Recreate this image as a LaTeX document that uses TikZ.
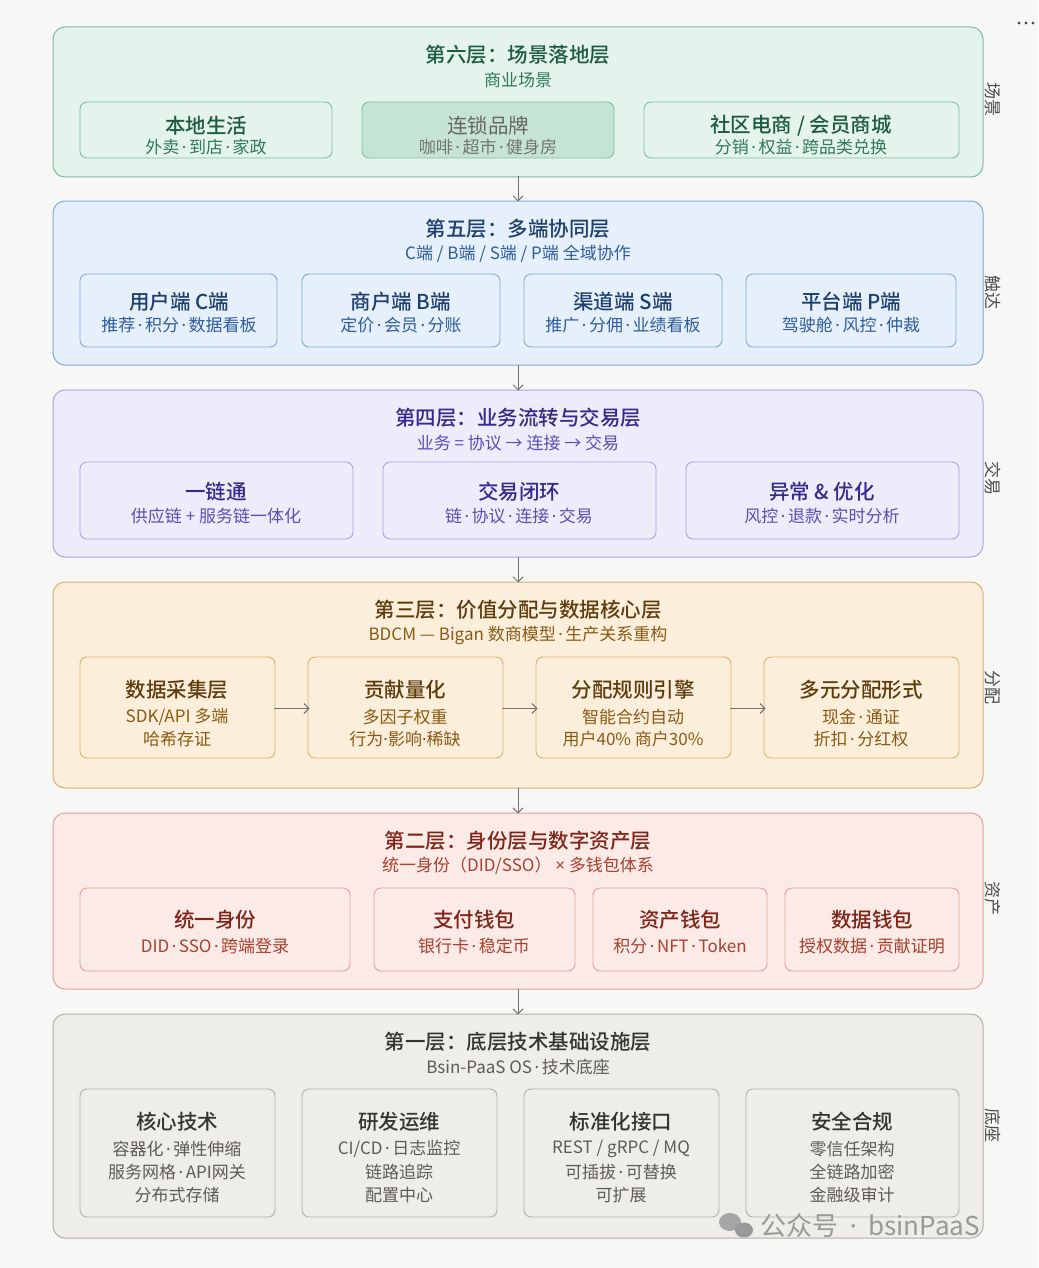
\documentclass[tikz,border=0pt]{standalone}
\usepackage{fontspec}
\setmainfont{Noto Sans CJK SC}[BoldFont={Noto Sans CJK SC Medium}]
\newfontfamily\latf{Noto Sans}
\newcommand\md{\hspace{0.15em}{\latf ·}\hspace{0.15em}}
\usetikzlibrary{arrows.meta,fit}
\definecolor{bg}{HTML}{F7F7F5}
\definecolor{gF}{HTML}{E4F4EC}\definecolor{gD}{HTML}{7DBFA0}\definecolor{gT}{HTML}{1E5A40}\definecolor{gS}{HTML}{2F7A58}
\definecolor{bF}{HTML}{E6F0FB}\definecolor{bD}{HTML}{80A8D8}\definecolor{bT}{HTML}{1F3F6F}\definecolor{bS}{HTML}{2E5C9A}
\definecolor{pF}{HTML}{EDECFB}\definecolor{pD}{HTML}{A8A3E4}\definecolor{pT}{HTML}{35298A}\definecolor{pS}{HTML}{5A4FB0}
\definecolor{oF}{HTML}{FBEFDC}\definecolor{oD}{HTML}{DDB06A}\definecolor{oT}{HTML}{5E3C0C}\definecolor{oS}{HTML}{8A5A14}
\definecolor{rF}{HTML}{FBEAE6}\definecolor{rD}{HTML}{E2A398}\definecolor{rT}{HTML}{7E2418}\definecolor{rS}{HTML}{A8402E}
\definecolor{kF}{HTML}{EFEDE8}\definecolor{kD}{HTML}{B2AFA8}\definecolor{kT}{HTML}{35332F}\definecolor{kS}{HTML}{5E5B55}
\tikzset{
 lay/.style={draw=#1D, fill=#1F, line width=1pt, rounded corners=12pt},
 ibox/.style={draw=#1D, fill=#1F, line width=0.9pt, rounded corners=7pt},
 ttl/.style={font=\fontsize{20.5}{24}\selectfont\bfseries, inner sep=0},
 sub/.style={font=\fontsize{17}{20}\selectfont, inner sep=0},
 btl/.style={font=\fontsize{20.5}{24}\selectfont\bfseries, inner sep=0},
 bsub/.style={font=\fontsize{17}{20}\selectfont, inner sep=0},
 side/.style={font=\fontsize{17}{20}\selectfont, text=black!70, rotate=-90, inner sep=0},
 larr/.style={draw=black!55, line width=1pt, -{Straight Barb[length=5pt,width=10pt]}},
}
\newcommand\bx[6]{\node[fit={(#2,#3)(#4,#5)}, inner sep=0, #6] (#1) {};}
\begin{document}
\begin{tikzpicture}[x=1pt,y=-1pt]
\fill[bg] (0,0) rectangle (1038,1268);
\useasboundingbox (0,0) rectangle (1038,1268);
\foreach \i in {0,1,2} \fill[black!70] (1019+\i*7,23) circle (1.6);
% layer 6
\bx{L6}{53}{27}{983}{177}{lay=g}
\node[ttl,text=gT] (t6) at (518,55) {第六层：场景落地层};
\node[sub,text=gS] (s6) at (518,80) {商业场景};
\bx{a61}{80}{102}{332}{158}{ibox=g}
\bx{a62}{362}{102}{614}{158}{draw=gD,fill=gD!30!gF,line width=.9pt,rounded corners=7pt}
\bx{a63}{644}{102}{959}{158}{ibox=g}
\node[btl,text=gT] at (206,126) {本地生活};\node[bsub,text=gS] at (206,147) {外卖\md 到店\md 家政};
\node[btl,text=black!60,font=\fontsize{20.5}{24}\selectfont] at (488,126) {连锁品牌};\node[bsub,text=black!55] at (488,147) {咖啡\md 超市\md 健身房};
\node[btl,text=gT] at (801,126) {社区电商 / 会员商城};\node[bsub,text=gS] at (801,147) {分销\md 权益\md 跨品类兑换};
\node[side] (sd6) at (993,100) {场景};
% layer 5
\bx{L5}{53}{201}{983}{365}{lay=b}
\node[ttl,text=bT] at (518,229) {第五层：多端协同层};
\node[sub,text=bS] at (518,254) {C端 / B端 / S端 / P端 全域协作};
\bx{a51}{80}{274}{277}{347}{ibox=b}\bx{a52}{302}{274}{500}{347}{ibox=b}
\bx{a53}{524}{274}{722}{347}{ibox=b}\bx{a54}{746}{274}{956}{347}{ibox=b}
\node[btl,text=bT] at (179,302) {用户端 C端};\node[bsub,text=bS] at (179,325) {推荐\md 积分\md 数据看板};
\node[btl,text=bT] at (401,302) {商户端 B端};\node[bsub,text=bS] at (401,325) {定价\md 会员\md 分账};
\node[btl,text=bT] at (623,302) {渠道端 S端};\node[bsub,text=bS] at (623,325) {推广\md 分佣\md 业绩看板};
\node[btl,text=bT] at (851,302) {平台端 P端};\node[bsub,text=bS] at (851,325) {驾驶舱\md 风控\md 仲裁};
\node[side] at (993,292) {触达};
% layer 4
\bx{L4}{53}{390}{983}{557}{lay=p}
\node[ttl,text=pT] at (518,418) {第四层：业务流转与交易层};
\node[sub,text=pS] at (518,443) {业务 = 协议 → 连接 → 交易};
\bx{a41}{80}{462}{353}{539}{ibox=p}\bx{a42}{383}{462}{656}{539}{ibox=p}\bx{a43}{686}{462}{959}{539}{ibox=p}
\node[btl,text=pT] at (216,492) {一链通};\node[bsub,text=pS] at (216,516) {供应链 + 服务链一体化};
\node[btl,text=pT] at (519,492) {交易闭环};\node[bsub,text=pS] at (519,516) {链\md 协议\md 连接\md 交易};
\node[btl,text=pT] at (822,492) {异常 \& 优化};\node[bsub,text=pS] at (822,516) {风控\md 退款\md 实时分析};
\node[side] at (993,478) {交易};
% layer 3
\bx{L3}{53}{582}{983}{788}{lay=o}
\node[ttl,text=oT] at (518,610) {第三层：价值分配与数据核心层};
\node[sub,text=oS] at (518,635) {BDCM — Bigan 数商模型\md 生产关系重构};
\bx{a31}{80}{657}{275}{758}{ibox=o}\bx{a32}{308}{657}{503}{758}{ibox=o}
\bx{a33}{536}{657}{731}{758}{ibox=o}\bx{a34}{764}{657}{959}{758}{ibox=o}
\node[btl,text=oT] at (177,690) {数据采集层};\node[bsub,text=oS] at (177,717) {SDK/API 多端};\node[bsub,text=oS] at (177,739) {哈希存证};
\node[btl,text=oT] at (405,690) {贡献量化};\node[bsub,text=oS] at (405,717) {多因子权重};\node[bsub,text=oS] at (405,739) {行为{\latf ·}影响{\latf ·}稀缺};
\node[btl,text=oT] at (633,690) {分配规则引擎};\node[bsub,text=oS] at (633,717) {智能合约自动};\node[bsub,text=oS] at (633,739) {用户40\% 商户30\%};
\node[btl,text=oT] at (861,690) {多元分配形式};\node[bsub,text=oS] at (861,717) {现金\md 通证};\node[bsub,text=oS] at (861,739) {折扣\md 分红权};
\draw[larr] ([xshift=-1pt,yshift=-1pt]a31.east) -- ([xshift=2pt,yshift=-1pt]a32.west);
\draw[larr] ([xshift=-1pt,yshift=-1pt]a32.east) -- ([xshift=2pt,yshift=-1pt]a33.west);
\draw[larr] ([xshift=-1pt,yshift=-1pt]a33.east) -- ([xshift=2pt,yshift=-1pt]a34.west);
\node[side] at (993,687) {分配};
% layer 2
\bx{L2}{53}{813}{983}{989}{lay=r}
\node[ttl,text=rT] at (518,841) {第二层：身份层与数字资产层};
\node[sub,text=rS] at (518,866) {统一身份（DID/SSO） {\latf ×} 多钱包体系};
\bx{a21}{80}{888}{350}{971}{ibox=r}\bx{a22}{374}{888}{575}{971}{ibox=r}
\bx{a23}{593}{888}{767}{971}{ibox=r}\bx{a24}{785}{888}{959}{971}{ibox=r}
\node[btl,text=rT] at (215,920) {统一身份};\node[bsub,text=rS] at (215,946) {DID\md SSO\md 跨端登录};
\node[btl,text=rT] at (474,920) {支付钱包};\node[bsub,text=rS] at (474,946) {银行卡\md 稳定币};
\node[btl,text=rT] at (680,920) {资产钱包};\node[bsub,text=rS] at (680,946) {积分\md NFT\md Token};
\node[btl,text=rT] at (872,920) {数据钱包};\node[bsub,text=rS] at (872,946) {授权数据\md 贡献证明};
\node[side] at (993,898) {资产};
% layer 1
\bx{L1}{53}{1014}{983}{1238}{lay=k}
\node[ttl,text=kT] at (518,1042) {第一层：底层技术基础设施层};
\node[sub,text=kS] at (518,1067) {Bsin-PaaS OS\md 技术底座};
\bx{a11}{80}{1089}{275}{1217}{ibox=k}\bx{a12}{302}{1089}{497}{1217}{ibox=k}
\bx{a13}{524}{1089}{719}{1217}{ibox=k}\bx{a14}{746}{1089}{959}{1217}{ibox=k}
\node[btl,text=kT] at (177,1122) {核心技术};\node[bsub,text=kS] at (177,1149) {容器化\md 弹性伸缩};\node[bsub,text=kS] at (177,1172) {服务网格\md API网关};\node[bsub,text=kS] at (177,1195) {分布式存储};
\node[btl,text=kT] at (399,1122) {研发运维};\node[bsub,text=kS] at (399,1149) {CI/CD\md 日志监控};\node[bsub,text=kS] at (399,1172) {链路追踪};\node[bsub,text=kS] at (399,1195) {配置中心};
\node[btl,text=kT] at (621,1122) {标准化接口};\node[bsub,text=kS] at (621,1149) {REST / gRPC / MQ};\node[bsub,text=kS] at (621,1172) {可插拔\md 可替换};\node[bsub,text=kS] at (621,1195) {可扩展};
\node[btl,text=kT] at (852,1122) {安全合规};\node[bsub,text=kS] at (852,1149) {零信任架构};\node[bsub,text=kS] at (852,1172) {全链路加密};\node[bsub,text=kS] at (852,1195) {金融级审计};
\node[side] at (993,1125) {底座};
% inter-layer arrows
\draw[larr] ([yshift=1pt]L6.south) -- ([yshift=-1pt]L5.north);
\draw[larr] ([yshift=1pt]L5.south) -- ([yshift=-1pt]L4.north);
\draw[larr] ([yshift=1pt]L4.south) -- ([yshift=-1pt]L3.north);
\draw[larr] ([yshift=1pt]L3.south) -- ([yshift=-1pt]L2.north);
\draw[larr] ([yshift=1pt]L2.south) -- ([yshift=-1pt]L1.north);
% watermark
\node[font=\fontsize{26}{28}\selectfont, text=black!40, anchor=west, inner sep=0] (wm) at (760,1226) {公众号\hspace{0.3em}\md\hspace{0.3em}bsinPaaS};
\fill[black!35] (730,1222) ellipse (11 and 9);
\fill[black!40] (744,1230) ellipse (9 and 7.5);
\end{tikzpicture}
\end{document}
